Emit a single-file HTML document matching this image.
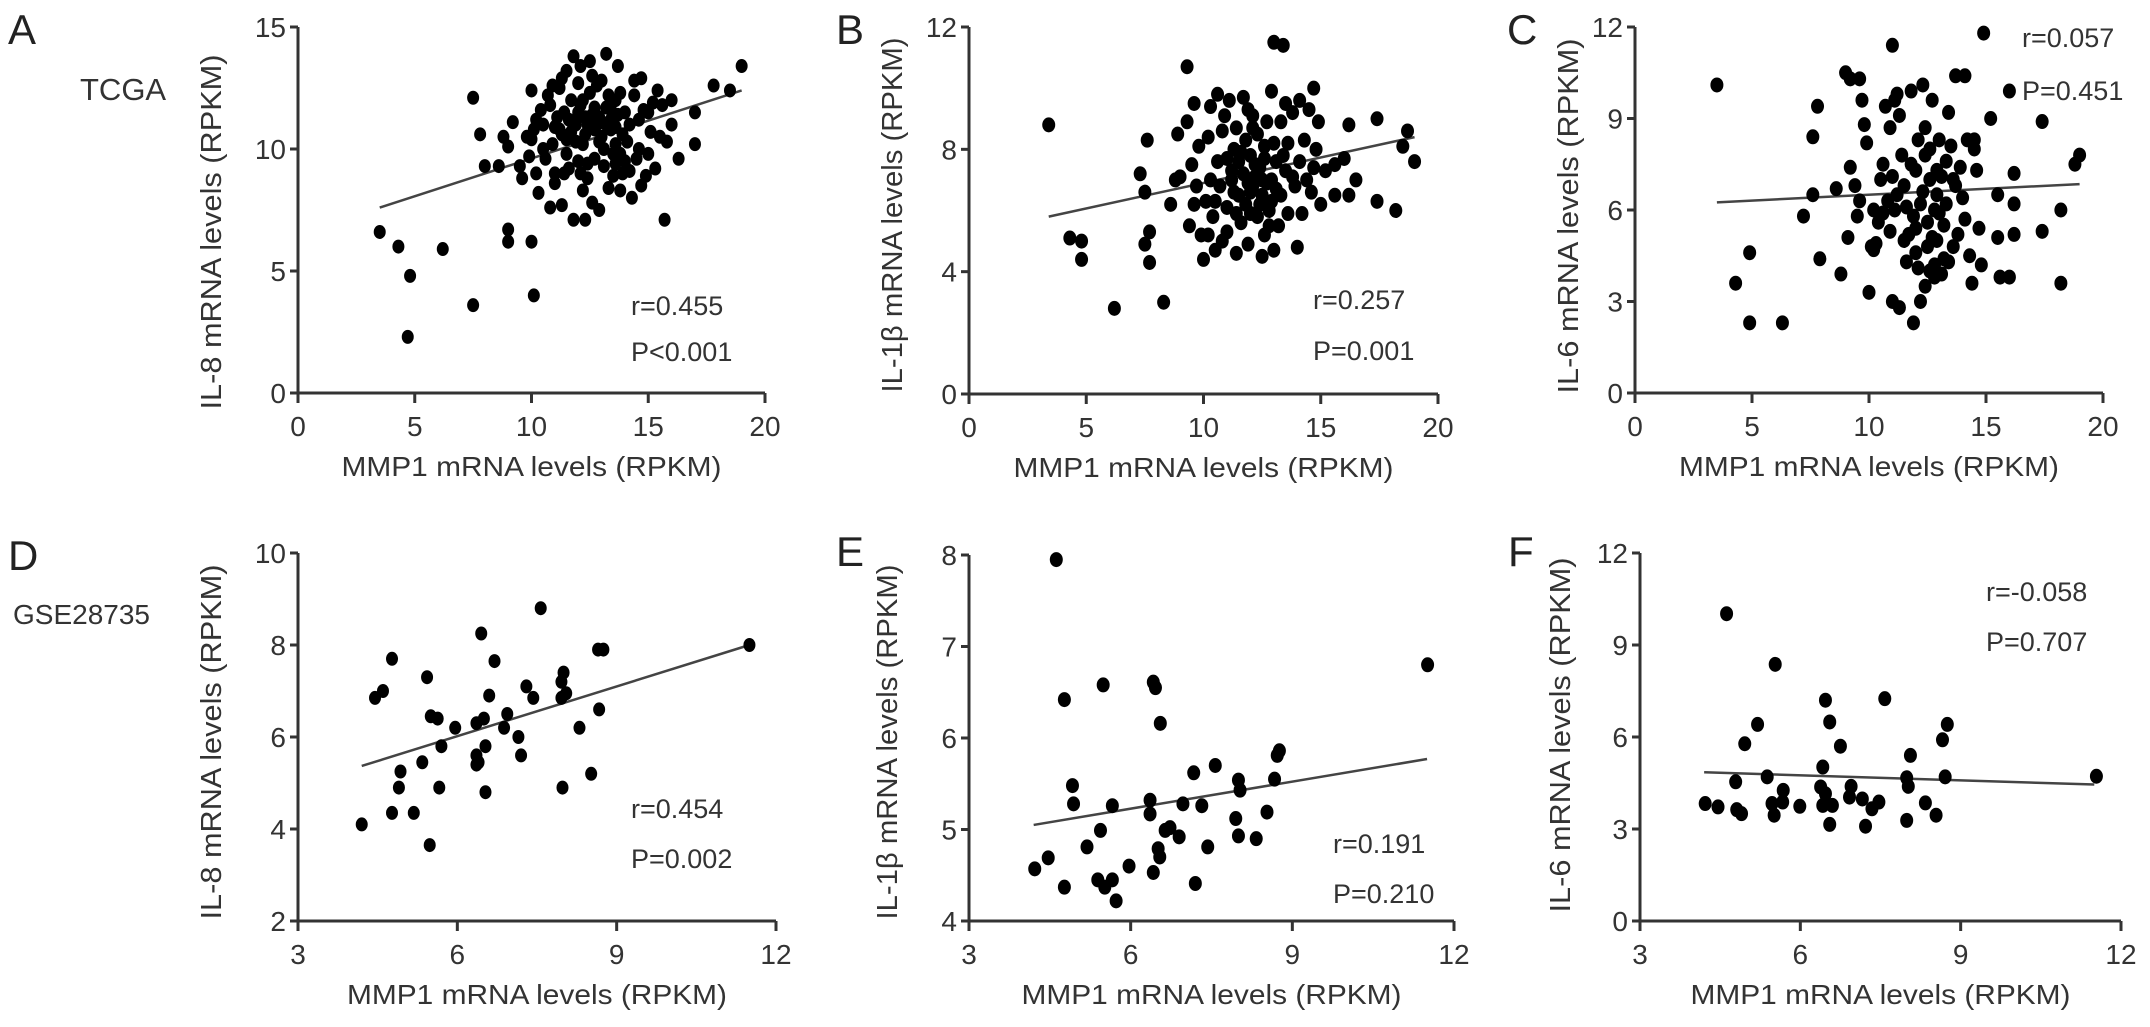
<!DOCTYPE html>
<html><head><meta charset="utf-8"><style>
html,body{margin:0;padding:0;background:#fff;}
svg{display:block;font-family:"Liberation Sans",Arial,sans-serif;}
</style></head><body>
<svg id="fig" width="2150" height="1027" viewBox="0 0 2150 1027" xmlns="http://www.w3.org/2000/svg">
<text x="8" y="44" font-size="42" fill="#222">A</text>
<text x="80" y="100" font-size="31" fill="#333">TCGA</text>
<text x="8" y="570" font-size="42" fill="#222">D</text>
<text x="13" y="624" font-size="28" fill="#333">GSE28735</text>
<text x="836" y="44" font-size="42" fill="#222">B</text>
<text x="1507" y="44" font-size="42" fill="#222">C</text>
<text x="836" y="566" font-size="42" fill="#222">E</text>
<text x="1508" y="566" font-size="42" fill="#222">F</text>
</svg>
<script>
// ---- Data ----
const aX=[3.5,4.3,4.8,4.7,6.2,7.5,7.5,8.0,7.8,9.0,9.0,10.0,10.1,10.0,12.3,15.7,16.3,17,17,17.8,18.5,19,16,16,15,15.5,
9.5,9.8,10.2,10.5,10.8,11,11.2,11.5,11.8,11.5,12,12.2,12.5,12.8,13,13.2,13.4,13.6,13.8,14,14.2,14.4,14.6,14.8,15.1,15.3,10.3,10.8,11.3,11.8,12.6,12.9,13.3,13.8,14.3,14.7,11.0,11.6,12.1,12.4,12.7,13.1,13.5,13.9,14.1,14.5,11.2,11.9,12.3,12.6,12.9,13.2,13.6,14.0,14.4,10.6,10.9,11.4,11.7,12.0,12.5,13.0,13.4,13.7,9.6,9.9,10.1,10.4,10.7,11.1,12.2,12.8,13.3,14.7,15.2,15.6,8.6,8.8,9.2,9.0,10.0,12.4,13.6,11.5,12.7,13.9,15.8,15.0,14.9,11.3,12.1,13.7,
11.0,11.3,11.6,11.9,12.1,12.3,12.5,12.7,13.0,13.2,13.4,13.6,12.4,12.9,11.7,10.5,12.0,13.1,13.8,14.2,10.9,12.6,11.4,12.2,13.5,14.6,15.4,10.2];
const aY=[6.6,6.0,4.8,2.3,5.9,3.6,12.1,9.3,10.6,6.7,6.2,6.2,4.0,12.4,7.1,7.1,9.6,10.2,11.5,12.6,12.4,13.4,11.0,12.0,11.5,10.5,
9.3,10.5,11.2,10.0,11.8,9.0,12.5,13.2,13.8,10.4,11.5,12.0,13.6,11.0,12.8,13.9,11.2,10.2,12.3,9.5,11.0,12.8,10.0,11.6,10.7,9.2,8.2,7.6,7.7,7.1,7.8,7.5,8.4,8.3,8.0,8.5,8.6,9.2,9.0,8.8,9.6,10.0,9.8,9.0,10.3,9.6,10.8,11.0,10.6,11.4,10.3,11.7,12.0,11.5,12.2,9.6,10.2,11.5,12.0,12.7,12.3,11.1,10.8,11.4,8.8,9.7,10.8,11.6,12.2,11.3,10.2,12.6,12.2,12.9,11.9,11.8,9.3,10.5,11.1,10.1,10.4,9.4,9.4,9.8,10.8,10.6,10.3,9.8,8.9,12.9,13.4,13.4,
10.9,10.6,11.2,10.3,11.8,11.3,10.9,11.7,10.5,11.0,11.6,10.9,11.0,11.3,10.7,11.0,9.5,9.3,9.8,9.1,12.6,13.0,9.0,8.3,8.9,11.2,12.4,9.0];
const bX=[3.4,4.3,4.8,4.8,6.2,7.3,7.5,7.6,7.5,7.7,7.7,8.3,9.3,13,13.4,14.7,16.2,17.4,18.7,18.5,19,17.4,18.2,16.2,15.6,15.6,16.5,16.0,
8.6,8.8,8.9,9.0,9.3,9.5,9.6,9.8,9.6,9.9,10.0,10.1,10.3,10.5,10.6,10.8,11.0,11.1,11.3,11.4,11.5,11.7,11.9,12.0,12.1,12.3,12.5,12.6,12.8,12.9,13.0,13.1,13.3,13.5,13.6,13.8,14.0,14.1,14.3,14.5,14.6,14.9,10.2,10.4,10.7,10.9,11.2,11.6,11.8,12.2,12.4,12.7,13.2,13.4,13.9,14.2,14.7,11.0,11.4,12.0,12.9,13.6,10.3,9.4,9.7,15.2,15.0,12.1,11.3,12.6,13.0,13.8,14.4,10.6,11.9,14.8,
11.2,11.5,11.8,12.0,12.2,12.4,12.5,12.7,12.9,13.1,11.6,12.3,11.4,12.8,13.3,11.0,10.5,10.8,12.1,13.5,11.7,12.6,14.1,11.9,12.5,10.2];
const bY=[8.8,5.1,5.0,4.4,2.8,7.2,6.6,8.3,4.9,5.3,4.3,3.0,10.7,11.5,11.4,10.0,8.8,9.0,8.6,8.1,7.6,6.3,6.0,6.5,6.5,7.5,7.0,7.7,
6.2,7.0,8.5,7.1,8.9,7.5,9.5,8.1,6.2,5.2,4.4,6.3,9.4,4.7,7.6,8.6,5.3,9.6,8.0,4.6,6.5,7.2,9.3,5.9,6.8,8.5,4.5,7.7,6.0,9.9,4.7,6.7,8.9,7.3,5.9,9.2,4.8,7.6,8.3,9.3,6.6,8.9,8.4,5.8,6.8,9.1,7.3,5.6,8.3,7.5,6.2,8.9,5.5,7.8,6.8,5.9,7.4,6.1,8.7,7.8,7.0,8.2,7.0,5.5,6.8,7.3,6.2,9.1,6.6,5.2,8.2,7.1,7.0,9.8,4.9,8.0,
7.0,7.6,6.2,6.6,7.1,7.4,6.5,6.9,6.3,7.6,7.9,5.8,5.9,5.5,6.5,7.7,6.3,5.0,8.7,9.5,9.7,8.1,9.6,6.9,7.0,5.2];
const cX=[3.5,4.3,4.9,4.9,6.3,7.2,7.6,7.6,7.8,7.9,8.6,8.8,9.0,9.2,9.6,11.0,14.9,16,17.4,17.4,18.2,18.2,18.8,19,16.2,16.2,16.2,15.2,15.5,15.5,15.6,16,13.7,14.1,14.5,14.5,
9.1,9.2,9.4,9.5,9.7,9.8,9.9,10.0,10.1,10.2,10.4,10.6,10.7,10.9,11.0,11.1,11.2,11.3,11.4,11.6,11.7,11.9,12.0,12.1,12.2,12.3,12.4,12.5,12.6,12.7,12.8,12.9,13.0,13.1,13.2,13.3,13.4,13.6,13.7,13.9,14.1,14.3,14.4,14.6,14.7,14.8,10.3,10.8,11.5,12.0,12.4,12.9,13.3,13.8,11.8,12.6,10.5,11.3,13.5,14.0,9.6,12.2,11.9,12.8,13.1,10.9,14.2,11.0,
11.2,11.6,12.0,12.3,12.5,12.7,12.9,13.2,11.5,12.1,12.4,10.6,11.8,13.0,12.6,11.1,13.4,12.8,10.2,13.6];
const cY=[10.1,3.6,4.6,2.3,2.3,5.8,6.5,8.4,9.4,4.4,6.7,3.9,10.5,10.3,10.3,11.4,11.8,9.9,8.9,5.3,6.0,3.6,7.5,7.8,6.2,5.2,7.2,9.0,6.5,5.1,3.8,3.8,10.4,10.4,8.3,8.0,
5.1,7.4,6.8,5.8,9.6,8.8,8.2,3.3,4.8,6.0,5.6,7.5,9.4,8.7,3.0,6.0,9.8,2.8,7.8,4.3,5.2,2.3,7.3,8.3,6.2,10.1,3.5,5.6,7.0,9.6,4.2,6.5,8.3,3.9,5.5,7.6,9.2,4.8,6.8,7.4,5.7,4.5,3.6,7.3,5.4,4.2,4.9,6.3,6.8,4.6,8.7,5.0,6.2,5.2,9.9,4.0,7.0,9.1,8.1,6.4,6.3,3.0,5.8,6.0,7.1,5.3,8.3,7.1,
6.5,6.1,5.4,6.6,4.8,5.1,7.3,4.4,5.0,4.1,7.8,5.9,7.5,5.9,8.0,9.6,4.3,3.8,4.7,7.0];
const dX=[4.2,4.45,4.6,4.77,4.77,4.9,4.93,5.18,5.34,5.43,5.5,5.63,5.48,5.66,5.7,5.96,6.36,6.45,6.5,6.36,6.4,6.36,6.53,6.53,6.6,6.7,6.88,6.94,7.15,7.2,7.3,7.43,7.57,7.96,8.0,7.96,8.05,7.98,8.3,8.52,8.67,8.65,8.75,11.5];
const dY=[4.1,6.85,7.0,7.7,4.35,4.9,5.25,4.35,5.45,7.3,6.45,6.4,3.65,4.9,5.8,6.2,6.3,8.25,6.4,5.6,5.45,5.4,5.8,4.8,6.9,7.65,6.2,6.5,6.0,5.6,7.1,6.85,8.8,7.2,7.4,6.85,6.95,4.9,6.2,5.2,6.6,7.9,7.9,8.0];
const eX=[4.62,4.77,4.22,4.47,4.77,4.92,4.94,5.19,5.44,5.49,5.39,5.52,5.66,5.66,5.73,5.97,6.36,6.36,6.42,6.46,6.55,6.42,6.51,6.54,6.64,6.73,6.9,6.97,7.17,7.2,7.32,7.43,7.57,7.95,8.0,8.0,8.03,8.33,8.53,8.67,8.72,8.76,11.51];
const eY=[7.95,6.42,4.57,4.69,4.37,5.48,5.28,4.81,4.99,6.58,4.45,4.37,4.45,5.26,4.22,4.6,5.32,5.17,6.61,6.55,6.16,4.53,4.79,4.7,4.99,5.02,4.92,5.28,5.62,4.41,5.26,4.81,5.7,5.12,5.54,4.93,5.43,4.9,5.19,5.55,5.81,5.86,6.8];
const fX=[4.62,5.53,4.22,4.46,4.79,4.81,4.9,4.96,5.2,5.38,5.47,5.51,5.68,5.67,5.99,6.47,6.55,6.42,6.38,6.47,6.42,6.6,6.55,6.75,6.95,6.92,7.16,7.22,7.34,7.47,7.58,7.99,8.02,8.06,7.99,8.34,8.54,8.66,8.75,8.71,11.54];
const fY=[10.02,8.37,3.83,3.72,4.54,3.63,3.5,5.78,6.41,4.7,3.83,3.45,4.26,3.88,3.74,7.2,6.49,5.02,4.37,4.15,3.77,3.77,3.15,5.7,4.39,4.04,3.98,3.09,3.66,3.88,7.25,4.67,4.39,5.4,3.28,3.85,3.45,5.91,6.41,4.7,4.72];
// regression line endpoints [x1,y1,x2,y2]
const aFit=[3.5,7.6,19,12.4], bFit=[3.4,5.8,19,8.4], cFit=[3.5,6.25,19,6.85];
const dFit=[4.2,5.37,11.5,8.0], eFit=[4.2,5.05,11.5,5.77], fFit=[4.2,4.85,11.5,4.45];
const xTicks020=[0,5,10,15,20], xTicks312=[3,6,9,12];
const aYT=[0,5,10,15], bYT=[0,4,8,12], cYT=[0,3,6,9,12], dYT=[2,4,6,8,10], eYT=[4,5,6,7,8], fYT=[0,3,6,9,12];
const aStat=["r=0.455","P<0.001"], bStat=["r=0.257","P=0.001"], cStat=["r=0.057","P=0.451"];
const dStat=["r=0.454","P=0.002"], eStat=["r=0.191","P=0.210"], fStat=["r=-0.058","P=0.707"];

// ---- Layout ----
const NS="http://www.w3.org/2000/svg";
const svg=document.getElementById('fig');
function mk(tag,attrs,parent){const e=document.createElementNS(NS,tag);for(const k in attrs)e.setAttribute(k,attrs[k]);(parent||svg).appendChild(e);return e;}
const panels=[
 {id:'a',xs:aX,ys:aY,fit:aFit,xt:xTicks020,yt:aYT,st:aStat,px:[298,765],py:[393,27],dx:[0,20],dy:[0,15],yl:'IL-8 mRNA levels (RPKM)',ytx:211,yty:232,sx:631,sy:[306,352],r:6.5},
 {id:'b',xs:bX,ys:bY,fit:bFit,xt:xTicks020,yt:bYT,st:bStat,px:[969,1438],py:[394,27],dx:[0,20],dy:[0,12],yl:'IL-1β mRNA levels (RPKM)',ytx:892,yty:215,sx:1313,sy:[300,351],r:7},
 {id:'c',xs:cX,ys:cY,fit:cFit,xt:xTicks020,yt:cYT,st:cStat,px:[1635,2103],py:[393,27],dx:[0,20],dy:[0,12],yl:'IL-6 mRNA levels (RPKM)',ytx:1568,yty:216,sx:2022,sy:[38,91],r:7},
 {id:'d',xs:dX,ys:dY,fit:dFit,xt:xTicks312,yt:dYT,st:dStat,px:[298,776],py:[921,553],dx:[3,12],dy:[2,10],yl:'IL-8 mRNA levels (RPKM)',ytx:211,yty:742,sx:631,sy:[809,859],r:6.5},
 {id:'e',xs:eX,ys:eY,fit:eFit,xt:xTicks312,yt:eYT,st:eStat,px:[969,1454],py:[921,555],dx:[3,12],dy:[4,8],yl:'IL-1β mRNA levels (RPKM)',ytx:887,yty:742,sx:1333,sy:[844,894],r:7},
 {id:'f',xs:fX,ys:fY,fit:fFit,xt:xTicks312,yt:fYT,st:fStat,px:[1640,2121],py:[921,553],dx:[3,12],dy:[0,12],yl:'IL-6 mRNA levels (RPKM)',ytx:1560,yty:735,sx:1986,sy:[592,642],r:7}
];
panels.forEach(p=>{
 const X=v=>p.px[0]+(v-p.dx[0])/(p.dx[1]-p.dx[0])*(p.px[1]-p.px[0]);
 const Y=v=>p.py[0]+(v-p.dy[0])/(p.dy[1]-p.dy[0])*(p.py[1]-p.py[0]);
 const g=mk('g',{});
 
 
 const xa=mk('line',{x1:p.px[0],y1:p.py[0],x2:p.px[1],y2:p.py[0],stroke:'#333','stroke-width':3},g);
 
 
 const ya=mk('line',{x1:p.px[0],y1:p.py[0],x2:p.px[0],y2:p.py[1],stroke:'#333','stroke-width':3},g);
 
 
 p.xt.forEach(t=>{
  const tk=mk('line',{x1:X(t),y1:p.py[0],x2:X(t),y2:p.py[0]+10,stroke:'#333','stroke-width':3},g);
  
  
  const tl=mk('text',{x:X(t),y:p.py[0]+43,'text-anchor':'middle','font-size':28,fill:'#333'},g);
  tl.textContent=t;
  
  
 });
 p.yt.forEach(t=>{
  const tk=mk('line',{x1:p.px[0]-8,y1:Y(t),x2:p.px[0],y2:Y(t),stroke:'#333','stroke-width':3},g);
  
  
  const tl=mk('text',{x:p.px[0]-12,y:Y(t)+10,'text-anchor':'end','font-size':28,fill:'#333'},g);
  tl.textContent=t;
  
  
 });
 const xt=mk('text',{x:(p.px[0]+p.px[1])/2,y:p.py[0]+83,'text-anchor':'middle','font-size':28,fill:'#333',textLength:380,lengthAdjust:'spacingAndGlyphs'},g);
 xt.textContent='MMP1 mRNA levels (RPKM)';
 
 
 const yt=mk('text',{x:0,y:0,'text-anchor':'middle','font-size':29,fill:'#333',textLength:355,lengthAdjust:'spacingAndGlyphs',transform:`translate(${p.ytx+10},${p.yty}) rotate(-90)`},g);
 yt.textContent=p.yl;
 
 
 const fl=mk('line',{x1:X(p.fit[0]),y1:Y(p.fit[1]),x2:X(p.fit[2]),y2:Y(p.fit[3]),stroke:'#444','stroke-width':2.5},g);
 
 
 p.xs.forEach((v,i)=>{
  const d=mk('ellipse',{cx:X(v),cy:Y(p.ys[i]),rx:p.r-0.5,ry:p.r+0.5,fill:'#000'},g);
  
  
 });
 p.st.forEach((s,i)=>{
  const t=mk('text',{x:p.sx,y:p.sy[i]+9,'font-size':27,fill:'#333'},g);
  t.textContent=s;
  
  
 });
});
</script>
</body></html>
